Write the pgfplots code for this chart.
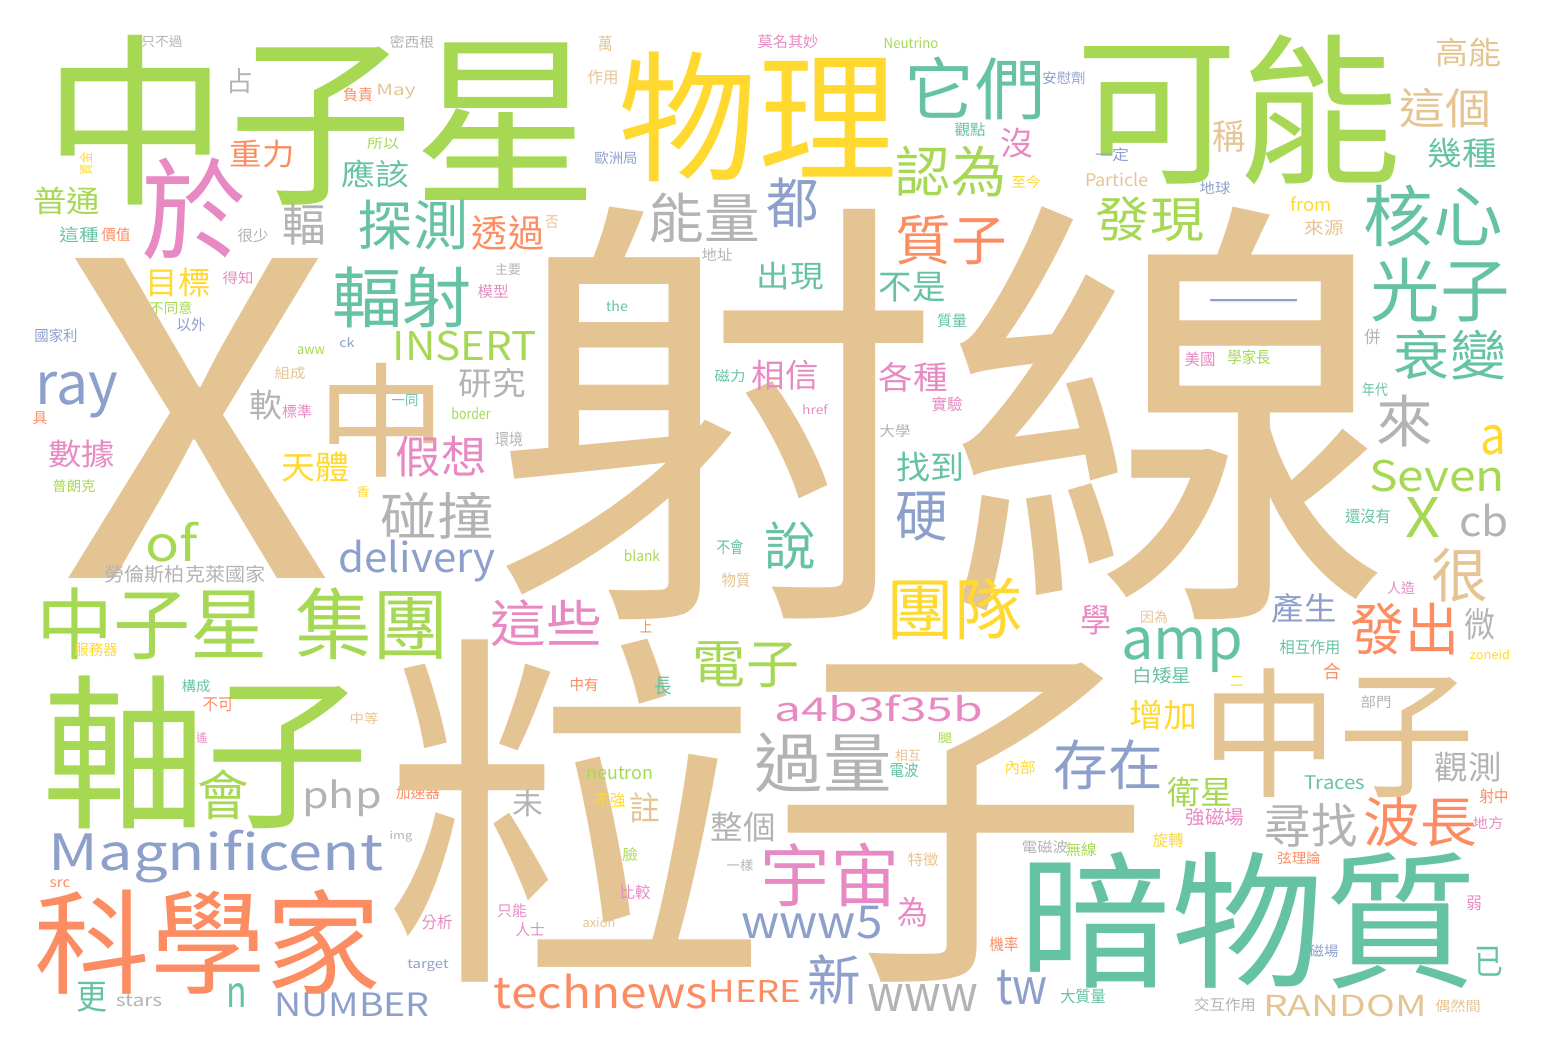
\documentclass[border=0pt]{standalone}
\usepackage{pgfplots}
\pgfplotsset{compat=1.18}
\usepackage{graphicx}
\usepackage{fontspec}
\setmainfont{Noto Sans CJK TC}
\definecolor{wc1}{HTML}{66C2A5}
\definecolor{wc2}{HTML}{FC8D62}
\definecolor{wc3}{HTML}{8DA0CB}
\definecolor{wc4}{HTML}{E78AC3}
\definecolor{wc5}{HTML}{A6D854}
\definecolor{wc6}{HTML}{FFD92F}
\definecolor{wc7}{HTML}{E5C494}
\definecolor{wc8}{HTML}{B3B3B3}
\newlength\px \setlength\px{0.1mm}
\begin{document}
\begin{tikzpicture}
\begin{axis}[
  width=154.8mm, height=105.2mm, scale only axis,
  hide axis, clip=false,
  xmin=0, xmax=1548, ymin=0, ymax=1052, y dir=reverse,
]
\addplot[only marks, mark=*, mark size=0pt, mark options={draw=none, fill=none},
  point meta=explicit symbolic,
  visualization depends on={value \thisrow{w}\as\ww},
  visualization depends on={value \thisrow{h}\as\hh},
  visualization depends on={value \thisrow{c}\as\cc},
  visualization depends on={value \thisrow{r}\as\rr},
  nodes near coords={\rotatebox{\rr}{\color{wc\cc}\resizebox*{1.03\dimexpr\ww\px\relax}{\hh\px}{\pgfplotspointmeta}}},
  every node near coord/.append style={anchor=center, inner sep=0pt, outer sep=0pt},
] table[x=x, y=y, meta=word] {
x y w h c r word
321 120 538 170 5 0 中子星
162 42 40 12 8 0 只不過
412 42 43 13 8 0 密西根
240 81 26 25 8 0 占
358 95 29 14 2 0 負責
396 92 38 15 7 0 May
262 154 63 28 2 0 重力
383 144 31 12 5 0 所以
194 209 102 102 4 0 於
375 174 66 28 1 0 應該
86 164 22 13 6 90 資金
67 201 65 28 5 0 普通
304 224 42 42 8 0 輻
413 225 107 50 1 0 探測
508 233 70 35 2 0 透過
79 235 38 16 1 0 這種
116 235 28 14 2 0 價值
253 236 30 14 8 0 很少
197 418 265 320 7 0 X
178 283 63 29 6 0 目標
238 278 30 13 4 0 得知
171 308 42 13 5 0 不同意
191 325 28 14 3 0 以外
56 336 42 14 3 0 國家利
311 351 27 8 5 0 aww
347 343 15 10 3 0 ck
465 346 140 30 5 0 INSERT
402 297 135 61 1 0 輻射
508 270 25 12 8 0 主要
493 292 30 14 4 0 模型
606 44 14 16 7 0 萬
603 77 30 15 7 0 作用
758 117 270 130 6 0 物理
788 42 59 14 4 0 莫名其妙
911 43 53 11 5 0 Neutrino
975 88 136 63 1 0 它們
970 130 30 14 1 0 觀點
1017 143 32 30 4 0 沒
951 172 107 51 5 0 認為
1026 182 28 13 6 0 至今
616 158 42 13 3 0 歐洲局
704 218 108 50 8 0 能量
793 203 51 50 3 0 都
951 240 108 50 2 0 質子
552 222 13 13 7 0 否
717 255 30 13 8 0 地址
790 276 65 28 1 0 出現
912 287 65 30 1 0 不是
617 306 21 11 1 0 the
952 321 29 14 1 0 質量
992 360 39 10 8 0 WIMP
1238 110 316 150 5 0 可能
1468 53 64 29 7 0 高能
1445 108 89 40 7 0 這個
1064 78 42 13 3 0 安慰劑
1229 136 32 32 7 0 稱
1462 153 67 30 1 0 幾種
1112 155 33 14 3 0 一定
1117 180 62 14 7 0 Particle
1215 188 30 13 3 0 地球
1311 204 40 15 6 0 from
1324 228 38 16 7 0 來源
1150 219 105 45 5 0 發現
1433 216 135 62 1 0 核心
1440 290 135 64 1 0 光子
1254 306 92 12 3 0 一
1373 337 16 16 8 0 併
1450 355 109 50 1 0 衰變
1200 359 30 15 4 0 美國
1249 357 42 15 5 0 學家長
77 395 80 46 3 0 ray
40 418 14 13 2 0 具
82 454 65 28 4 0 數據
74 486 42 13 5 0 普朗克
172 542 51 40 5 0 of
185 574 156 18 8 0 勞倫斯柏克萊國家
152 624 225 72 5 0 中子星
372 624 149 72 5 0 集團
290 373 30 13 7 0 組成
382 420 125 114 7 0 中
492 383 65 30 8 0 研究
266 405 32 30 8 0 軟
297 412 29 14 4 0 標準
405 401 26 12 1 0 一同
471 414 38 12 5 0 border
509 439 27 15 8 0 環境
315 467 66 30 6 0 天體
441 457 88 41 4 0 假想
363 492 13 11 6 0 香
437 516 110 47 8 0 碰撞
417 561 153 42 3 0 delivery
96 650 42 14 6 0 服務器
196 686 28 13 1 0 構成
206 752 318 153 5 0 軸子
218 705 30 14 2 0 不可
364 719 28 12 7 0 中等
202 738 11 11 4 0 遙
223 795 50 50 5 0 會
342 798 77 37 8 0 php
418 793 43 13 2 0 加速器
401 837 22 11 8 0 img
216 857 325 53 3 0 Magnificent
60 884 20 8 2 0 src
208 942 337 105 2 0 科學家
92 997 30 30 1 0 更
139 1001 45 12 8 0 stars
237 995 20 24 1 0 n
352 1005 151 24 3 0 NUMBER
437 922 30 15 4 0 分析
428 966 40 12 3 0 target
512 911 29 14 4 0 只能
530 930 28 14 4 0 人士
768 811 746 343 7 0 粒子
944 413 874 413 7 0 射線
879 708 202 27 4 0 a4b3f35b
823 763 133 60 8 0 過量
945 738 14 11 5 0 腿
908 756 25 12 7 0 相互
904 770 28 15 1 0 電波
1020 768 30 14 6 0 內部
620 773 65 13 5 0 neutron
528 803 30 27 8 0 未
610 800 30 15 6 0 不強
645 808 30 30 7 0 註
743 827 63 30 8 0 整個
630 855 15 14 5 0 臉
740 866 26 12 8 0 一樣
830 875 135 64 4 0 宇宙
923 860 30 14 7 0 特徵
635 892 30 15 4 0 比較
599 923 32 10 7 0 axion
913 912 30 30 4 0 為
812 923 137 33 3 0 www5
1004 944 28 15 2 0 機率
834 980 52 50 3 0 新
601 992 208 35 2 0 technews
755 991 90 22 2 0 HERE
923 998 107 27 8 0 www
1022 988 50 35 3 0 tw
1338 733 265 129 7 0 中子
1376 702 30 13 8 0 部門
1163 715 66 30 6 0 增加
1108 765 106 50 3 0 存在
1468 767 65 30 8 0 觀測
1200 792 63 30 5 0 衛星
1335 783 59 14 1 0 Traces
1215 817 57 18 4 0 強磁場
1494 796 28 15 2 0 射中
1311 825 90 44 8 0 尋找
1420 822 110 50 2 0 波長
1488 823 30 13 4 0 地方
1168 840 30 15 6 0 旋轉
1045 847 45 13 8 0 電磁波
1081 850 30 14 5 0 無線
1299 858 42 13 2 0 弦理論
1248 921 445 137 1 0 暗物質
1474 903 15 15 4 0 弱
1324 951 28 13 3 0 磁場
1489 962 28 29 1 0 已
1083 996 44 15 1 0 大質量
1225 1005 60 14 8 0 交互作用
1345 1006 159 22 7 0 RANDOM
1458 1006 44 13 7 0 偶然間
730 376 30 13 1 0 磁力
785 375 65 30 4 0 相信
913 377 67 30 4 0 各種
815 410 25 10 4 0 href
947 404 30 15 4 0 實驗
895 431 30 13 8 0 大學
930 467 66 30 1 0 找到
922 517 51 49 3 0 硬
790 546 50 48 1 0 說
730 547 26 15 1 0 不會
642 556 35 12 5 0 blank
736 580 28 15 7 0 物質
954 609 132 62 6 0 團隊
546 623 108 47 4 0 這些
646 626 12 13 2 0 上
746 665 103 46 5 0 電子
584 685 28 14 2 0 中有
663 686 17 18 1 0 長
1375 390 25 14 1 0 年代
1405 421 55 52 8 0 來
1493 440 25 30 6 0 a
1437 476 132 32 5 0 Seven
1368 516 44 15 1 0 還沒有
1423 518 34 40 5 0 X
1484 521 48 33 8 0 cb
1460 575 55 54 7 0 很
1401 588 27 13 4 0 人造
1304 608 63 30 3 0 產生
1096 620 30 30 4 0 學
1154 617 27 13 7 0 因為
1405 629 105 52 2 0 發出
1480 624 30 32 8 0 微
1182 650 118 45 1 0 amp
1310 647 59 15 1 0 相互作用
1490 655 39 10 6 0 zoneid
1162 676 57 17 1 0 白矮星
1237 682 13 10 6 0 二
1332 671 17 17 2 0 合
};
\end{axis}
\pgfresetboundingbox
\path[use as bounding box] (current axis.south west) rectangle (current axis.north east);
\end{tikzpicture}
\end{document}
